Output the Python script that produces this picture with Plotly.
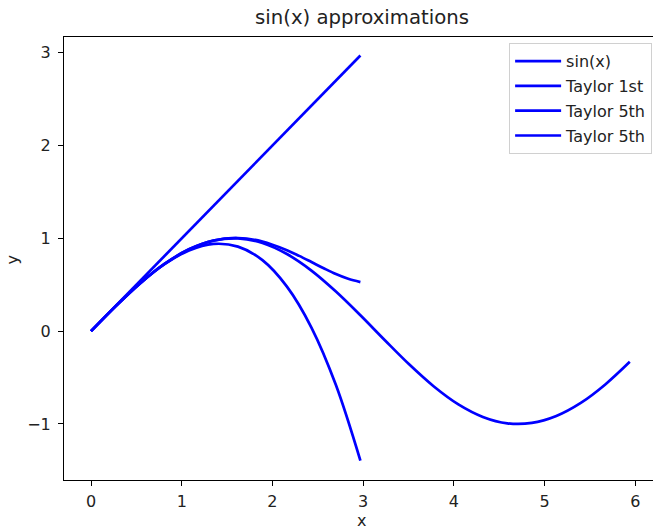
import plotly.graph_objects as go

# ---- data ----
x_sin = [0, 0.27, 0.54, 0.81, 1.08, 1.35, 1.62, 1.89, 2.16, 2.43, 2.70, 2.97,
         3.24, 3.51, 3.78, 4.05, 4.32, 4.59, 4.86, 5.13, 5.40, 5.67, 5.94]
y_sin = [0, 0.267, 0.514, 0.724, 0.882, 0.976, 0.999, 0.950, 0.831, 0.653, 0.427, 0.171,
         -0.098, -0.360, -0.596, -0.789, -0.924, -0.993, -0.989, -0.914, -0.773, -0.574, -0.33]

x_t1 = [0, 2.97]
y_t1 = [0, 2.97]

x_t5 = [0, 0.27, 0.54, 0.81, 1.08, 1.35, 1.62, 1.89, 2.16, 2.295, 2.43, 2.565, 2.70, 2.835, 2.97]
y_t5 = [0, 0.267, 0.514, 0.724, 0.882, 0.977, 1.004, 0.966, 0.872, 0.811, 0.745, 0.678, 0.615, 0.564, 0.529]

x_t3 = [0, 0.27, 0.54, 0.81, 1.08, 1.35, 1.62, 1.89, 2.16, 2.43, 2.70, 2.97]
y_t3 = [0, 0.267, 0.514, 0.721, 0.870, 0.940, 0.911, 0.765, 0.480, 0.039, -0.581, -1.396]

series = [
    ("sin(x)", x_sin, y_sin),
    ("Taylor 1st", x_t1, y_t1),
    ("Taylor 5th", x_t5, y_t5),
    ("Taylor 5th", x_t3, y_t3),
]

x_ticks = [0, 1, 2, 3, 4, 5, 6]
y_ticks = [-1, 0, 1, 2, 3]

title_text = "sin(x) approximations"
x_label = "x"
y_label = "y"

# ---- figure ----
FONT = "DejaVu Sans"
BLUE = "#0000ff"
FS = 16.0

fig = go.Figure()
for i, (name, xs, ys) in enumerate(series):
    fig.add_trace(go.Scatter(
        x=xs, y=ys, mode="lines", name=name,
        line=dict(color=BLUE, width=2.7, shape="spline", smoothing=1.0),
        legendgroup=f"g{i}",
    ))

axis_common = dict(
    showgrid=False, zeroline=False, showline=True, linecolor="black", linewidth=1.1,
    ticks="outside", ticklen=5, tickwidth=1.1, tickcolor="black",
    tickfont=dict(family=FONT, size=FS, color="#222222"),
)

fig.update_layout(
    width=653, height=531,
    margin=dict(l=64, r=0, t=37, b=51),
    paper_bgcolor="white", plot_bgcolor="white",
    font=dict(family=FONT, size=FS, color="black"),
    showlegend=True,
    legend=dict(
        x=0.9985, xanchor="right", y=0.986, yanchor="top",
        bgcolor="rgba(255,255,255,0.8)", bordercolor="#d0d0d0", borderwidth=1,
        font=dict(family=FONT, size=FS, color="#222222"),
        tracegroupgap=1, itemwidth=46,
    ),
    xaxis=dict(range=[-0.298, 6.196], tickvals=x_ticks, mirror=True,
               ticklabelstandoff=2, **axis_common),
    yaxis=dict(range=[-1.604, 3.17], tickvals=y_ticks, mirror=False,
               ticklabelstandoff=4, **axis_common),
    annotations=[
        dict(text=title_text, xref="paper", yref="paper", x=0.5053, y=1.0436,
             xanchor="center", yanchor="middle", showarrow=False,
             font=dict(family=FONT, size=19.7, color="#222222")),
        dict(text=x_label, xref="paper", yref="paper", x=0.5053, y=-0.092,
             xanchor="center", yanchor="middle", showarrow=False,
             font=dict(family=FONT, size=FS, color="#222222")),
        dict(text=y_label, xref="paper", yref="paper", x=-0.087, y=0.497,
             xanchor="center", yanchor="middle", showarrow=False, textangle=-90,
             font=dict(family=FONT, size=FS, color="#222222")),
    ],
)

fig.write_html("out.html")
